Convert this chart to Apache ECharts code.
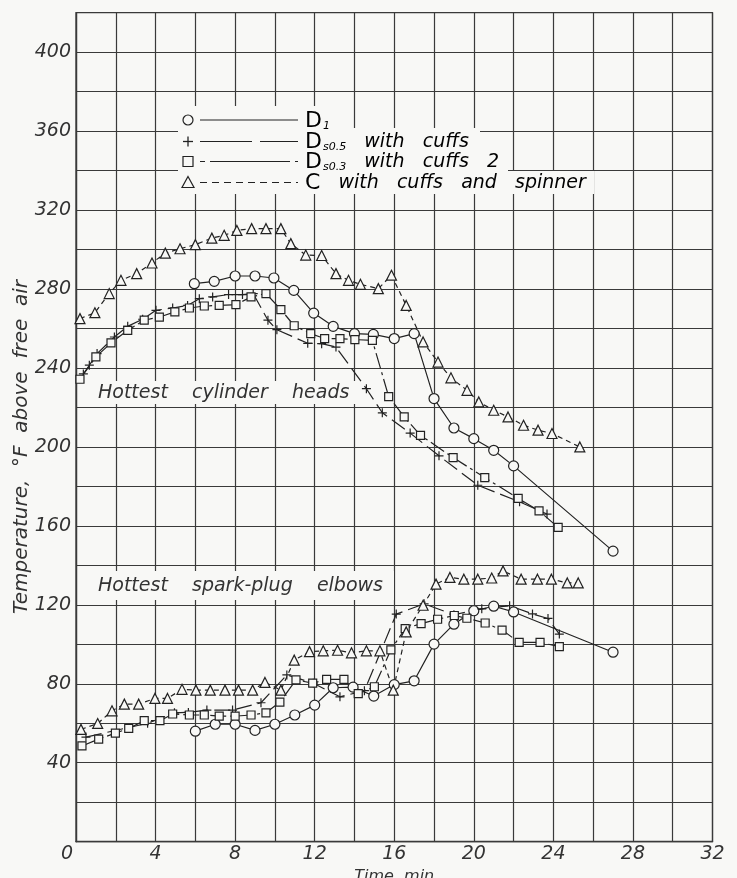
<!DOCTYPE html>
<html><head><meta charset="utf-8">
<script src="https://cdn.jsdelivr.net/npm/echarts@6/dist/echarts.min.js"></script>
<style>html,body{margin:0;padding:0;background:#f8f8f6}#c{width:737px;height:878px}</style>
</head><body><div id="c"></div><script>
// ---- data (time, min ; temperature, °F above free air) ----
const d1Heads = [[5.95,282.7],[6.95,283.9],[8.0,286.6],[9.0,286.6],[9.95,285.6],[10.95,279.3],[11.95,267.8],[12.93,261.1],[14.0,257.4],[14.95,257.0],[16.0,254.9],[17.0,257.4],[18.0,224.5],[19.0,209.6],[20.0,204.2],[21.0,198.3],[22.0,190.4],[27.0,147.2]];
const ds05Heads = [[0.37,237],[0.67,241.4],[1.06,247.3],[1.93,255.7],[2.6,261.1],[3.35,264.7],[4.02,269.2],[4.86,270.4],[5.61,271.7],[6.2,275.1],[6.87,276.0],[7.67,277.2],[8.37,277.2],[8.91,277.7],[9.65,264.2],[10.1,259.4],[11.65,252.5],[12.35,252.3],[13.07,250.6],[14.6,229.5],[15.4,217.3],[16.8,207.0],[18.25,195.5],[20.2,180.6],[22.3,172.2],[23.68,166.0]];
const ds03Heads = [[0.2,234.3],[1.0,245.6],[1.76,252.7],[2.6,259.1],[3.43,264.2],[4.19,265.8],[4.97,268.4],[5.7,270.4],[6.45,271.4],[7.2,271.7],[8.04,272.1],[8.8,276.0],[9.55,277.7],[10.3,269.6],[10.97,261.4],[11.8,257.4],[12.5,254.9],[13.27,254.9],[14.02,254.4],[14.9,254.0],[15.72,225.5],[16.5,215.2],[17.32,205.9],[18.96,194.6],[20.55,184.5],[22.23,173.9],[23.28,167.6],[24.24,159.2]];
const cHeads = [[0.2,265],[0.95,268],[1.67,277.7],[2.26,284.4],[3.05,287.8],[3.82,293.2],[4.49,298.2],[5.23,300.4],[6.0,302.5],[6.83,305.8],[7.45,307.2],[8.09,309.7],[8.83,310.6],[9.55,310.6],[10.3,310.6],[10.8,303],[11.55,297.2],[12.35,297],[13.07,287.8],[13.7,284.4],[14.3,282.4],[15.2,280.2],[15.86,287],[16.6,271.7],[17.45,253.2],[18.2,243],[18.85,235],[19.66,228.7],[20.25,222.8],[21.0,218.6],[21.72,215.2],[22.5,211],[23.23,208.5],[23.93,206.8],[25.33,200]];

const d1Elbows = [[6.0,56],[7.0,59.5],[8.0,59.5],[9.0,56.4],[10.0,59.5],[11.0,64.2],[12.0,69.2],[12.93,78],[13.93,78.3],[14.97,73.8],[16.0,79.6],[17.0,81.5],[18.0,100.1],[19.0,110.2],[20.0,117],[21.0,119.3],[22.0,116.4],[27.0,96]];
const ds05Elbows = [[0.5,53],[3.6,60],[4.95,65.3],[5.65,65.5],[6.58,66.7],[7.87,66.7],[9.3,70.4],[10.6,84.5],[11.93,80.3],[13.27,73.4],[14.5,76.5],[16.1,115.3],[17.5,120.5],[19.0,115],[20.4,118],[21.8,119.6],[22.95,115.4],[23.73,113.1],[24.3,105.2]];
const ds03Elbows = [[0.3,48.5],[1.14,52],[1.98,55],[2.65,57.4],[3.43,61.3],[4.22,61.3],[4.86,64.7],[5.7,64.2],[6.45,64.2],[7.2,63.6],[8.0,63.6],[8.8,64.2],[9.55,65.3],[10.25,70.7],[11.06,82],[11.9,80.3],[12.6,82.2],[13.47,82.2],[14.19,75],[15.0,78.5],[15.83,97.2],[16.55,108],[17.35,110.5],[18.18,112.7],[19.02,114.6],[19.65,113.2],[20.57,110.8],[21.42,107.2],[22.28,101],[23.33,101],[24.3,98.8]];
const cElbows = [[0.25,56.9],[1.09,59.9],[1.81,66.3],[2.43,69.7],[3.15,69.7],[3.97,72.6],[4.6,72.6],[5.33,77.2],[6.03,76.8],[6.75,76.8],[7.49,76.8],[8.17,76.8],[8.88,76.8],[9.5,80.7],[10.3,76.8],[10.97,92],[11.74,96.3],[12.43,96.7],[13.15,97],[13.85,95.7],[14.6,96.7],[15.28,96.7],[15.95,76.8],[16.6,106.3],[17.45,119.8],[18.1,130.5],[18.8,133.9],[19.5,133],[20.2,133],[20.9,133.6],[21.47,137.2],[22.38,133],[23.2,133],[23.9,133],[24.7,131.1],[25.25,131.1]];

const xTickLabels = [0,4,8,12,16,20,24,28,32];
const yTickLabels = [40,80,120,160,200,240,280,320,360,400];
const legendNames = ['D1','Ds0.5 with cuffs','Ds0.3 with cuffs 2','C with cuffs and spinner'];
const yAxisTitle = 'Temperature,  °F  above  free  air';
const xAxisTitle = 'Time, min';
const noteHeads = 'Hottest    cylinder    heads';
const noteElbows = 'Hottest    spark-plug    elbows';

// ---- styles ----
const bg = '#f8f8f6', ink = '#222', gridInk = '#3a3a3a';
const FONT = '"DejaVu Sans", sans-serif';
const plusPath = 'path://M0,5H10M5,0V10';
const styles = {
  d1:  {symbol:'circle', size:10, dash:'solid'},
  s05: {symbol:plusPath, size:9, dash:[16,6]},
  s03: {symbol:'rect', size:8, dash:[16,4,3,4]},
  c:   {symbol:'triangle', size:10, dash:[5,4]}
};
function mk(name, data, st){
  return {type:'line', name, data, symbol:st.symbol, symbolSize:st.size, showSymbol:true,
    lineStyle:{color:ink, width:1.2, type:st.dash},
    itemStyle:{color:bg, borderColor:ink, borderWidth:1.2},
    emphasis:{disabled:true}, z:3};
}

const chart = echarts.init(document.getElementById('c'), null, {renderer:'canvas'});
const maskFill = bg;
const rowY = [120, 141.5, 161.5, 182.5];
const mx = 188, lx1 = 200, lx2 = 298, tx = 305;
function legLine(y, dash){ return {type:'line', z:60, shape:{x1:lx1,y1:y,x2:lx2,y2:y}, style:{stroke:ink, lineWidth:1.2, lineDash:dash}}; }
const graphic = [
  // masks behind legend and notes
  {type:'rect', z:50, shape:{x:178,y:106,width:170,height:22}, style:{fill:maskFill}},
  {type:'rect', z:50, shape:{x:178,y:128,width:302,height:22}, style:{fill:maskFill}},
  {type:'rect', z:50, shape:{x:178,y:150,width:330,height:21}, style:{fill:maskFill}},
  {type:'rect', z:50, shape:{x:178,y:171,width:416,height:23}, style:{fill:maskFill}},
  {type:'rect', z:50, shape:{x:92,y:381,width:264,height:23}, style:{fill:maskFill}},
  {type:'rect', z:50, shape:{x:92,y:571,width:302,height:29}, style:{fill:maskFill}},
  // legend symbols
  {type:'circle', z:60, shape:{cx:mx, cy:rowY[0], r:5}, style:{fill:bg, stroke:ink, lineWidth:1.2}},
  {type:'line', z:60, shape:{x1:mx-5,y1:rowY[1],x2:mx+5,y2:rowY[1]}, style:{stroke:ink, lineWidth:1.3}},
  {type:'line', z:60, shape:{x1:mx,y1:rowY[1]-5,x2:mx,y2:rowY[1]+5}, style:{stroke:ink, lineWidth:1.3}},
  {type:'rect', z:60, shape:{x:mx-5,y:rowY[2]-5,width:10,height:10}, style:{fill:bg, stroke:ink, lineWidth:1.2}},
  {type:'polygon', z:60, shape:{points:[[mx,rowY[3]-6],[mx+6,rowY[3]+5],[mx-6,rowY[3]+5]]}, style:{fill:bg, stroke:ink, lineWidth:1.2}},
  legLine(rowY[0], null), legLine(rowY[1], [52,8]), legLine(rowY[2], [5,5,80,5]), legLine(rowY[3], [7,5]),
];
const rich = {
  d:{fontSize:22, fontStyle:'normal', fontFamily:FONT, color:'#333'},
  s:{fontSize:11, fontStyle:'italic', fontFamily:FONT, color:'#333', padding:[10,0,0,1]},
  t:{fontSize:19, fontStyle:'italic', fontFamily:FONT, color:'#333'}
};
const legendRich = [
  '{d|D}{s|1}',
  '{d|D}{s|s0.5}{t|   with   cuffs}',
  '{d|D}{s|s0.3}{t|   with   cuffs   2}',
  '{d|C}{t|   with   cuffs   and   spinner}'
];
legendRich.forEach((txt,i)=>{
  graphic.push({type:'text', z:60, x:tx, y:rowY[i]+1, style:{text:txt, rich, verticalAlign:'middle', align:'left'}});
});
graphic.push({type:'text', z:60, x:22, y:447, rotation:Math.PI/2,
  style:{text:yAxisTitle, fontSize:20, fontStyle:'italic', fontFamily:FONT, fill:'#333', align:'center', verticalAlign:'middle'}});
graphic.push({type:'text', z:60, x:98, y:393,
  style:{text:noteHeads, fontSize:19, fontStyle:'italic', fontFamily:FONT, fill:'#333', align:'left', verticalAlign:'middle'}});
graphic.push({type:'text', z:60, x:98, y:586,
  style:{text:noteElbows, fontSize:19, fontStyle:'italic', fontFamily:FONT, fill:'#333', align:'left', verticalAlign:'middle'}});

const option = {
  backgroundColor: bg,
  animation:false,
  grid:{left:76, right:24.5, top:12.7, bottom:36.3, show:true, borderColor:gridInk, borderWidth:1.3, backgroundColor:'transparent', outerBoundsMode:'none'},
  xAxis:{type:'value', min:0, max:32, interval:2,
    name:xAxisTitle, nameLocation:'middle', nameGap:20,
    nameTextStyle:{fontSize:16, fontStyle:'italic', fontFamily:FONT, color:'#333', verticalAlign:'top'},
    axisLine:{show:true, lineStyle:{color:gridInk, width:1.3}}, axisTick:{show:false},
    axisLabel:{margin:3, fontSize:19, fontStyle:'italic', fontFamily:FONT, color:'#333',
      formatter:v=> xTickLabels.includes(v) ? (v===0 ? '{z|0}' : String(v)) : '',
      rich:{z:{fontSize:19, fontStyle:'italic', fontFamily:FONT, color:'#333', padding:[0,18,0,0]}}},
    splitLine:{show:true, lineStyle:{color:gridInk, width:1.2}}},
  yAxis:{type:'value', min:0, max:420, interval:20,
    axisLine:{show:true, lineStyle:{color:gridInk, width:1.3}}, axisTick:{show:false},
    axisLabel:{margin:5, fontSize:19, fontStyle:'italic', fontFamily:FONT, color:'#333',
      formatter:v=> yTickLabels.includes(v) ? String(v) : ''},
    splitLine:{show:true, lineStyle:{color:gridInk, width:1.2}}},
  series:[
    mk(legendNames[0], d1Heads, styles.d1),
    mk(legendNames[1], ds05Heads, styles.s05),
    mk(legendNames[2], ds03Heads, styles.s03),
    mk(legendNames[3], cHeads, styles.c),
    mk(legendNames[0], d1Elbows, styles.d1),
    mk(legendNames[1], ds05Elbows, styles.s05),
    mk(legendNames[2], ds03Elbows, styles.s03),
    mk(legendNames[3], cElbows, styles.c)
  ],
  graphic
};
chart.setOption(option);
</script></body></html>
